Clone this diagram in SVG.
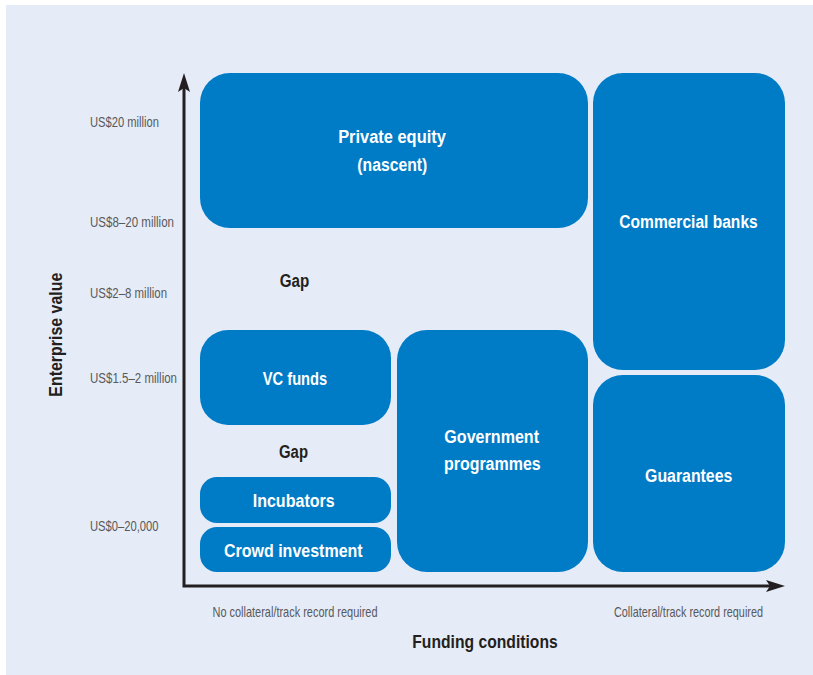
<svg xmlns="http://www.w3.org/2000/svg" width="813" height="675" viewBox="0 0 813 675">
<style>
.box{fill:#007bc6;}
.lbl{font-family:"Liberation Sans Narrow","Liberation Sans",Arial,sans-serif;font-weight:bold;font-size:18px;fill:#ffffff;text-anchor:middle;}
.gap{font-family:"Liberation Sans Narrow","Liberation Sans",Arial,sans-serif;font-weight:bold;font-size:18px;fill:#231f20;text-anchor:middle;}
.tick{font-family:"Liberation Sans Narrow","Liberation Sans",Arial,sans-serif;font-size:14.5px;fill:#58595b;}
.axt{font-family:"Liberation Sans Narrow","Liberation Sans",Arial,sans-serif;font-weight:bold;font-size:18px;fill:#231f20;text-anchor:middle;}
.axis{stroke:#231f20;stroke-width:3;fill:none;}
.head{fill:#231f20;}
</style>
<rect x="0" y="0" width="813" height="675" fill="#ffffff"/>
<rect x="6" y="5" width="807" height="670" fill="#e6ecf7"/>

<g id="axes">
  <path class="axis" d="M184,86 V586 H772"/>
  <path class="head" d="M184,73 L190,92 L184,88 L178,92 Z"/>
  <path class="head" d="M785,586 L766,580 L770,586 L766,592 Z"/>
</g>

<g id="y-labels">
  <text class="tick" x="90" y="127" textLength="69" lengthAdjust="spacingAndGlyphs">US$20 million</text>
  <text class="tick" x="90" y="227" textLength="84" lengthAdjust="spacingAndGlyphs">US$8–20 million</text>
  <text class="tick" x="90" y="298" textLength="77" lengthAdjust="spacingAndGlyphs">US$2–8 million</text>
  <text class="tick" x="90" y="383" textLength="87" lengthAdjust="spacingAndGlyphs">US$1.5–2 million</text>
  <text class="tick" x="90" y="530.5" textLength="68.5" lengthAdjust="spacingAndGlyphs">US$0–20,000</text>
  <text class="axt" transform="translate(62,334.7) rotate(-90)" textLength="124" lengthAdjust="spacingAndGlyphs">Enterprise value</text>
</g>

<g id="x-labels">
  <text class="tick" x="212.5" y="616.5" textLength="165" lengthAdjust="spacingAndGlyphs">No collateral/track record required</text>
  <text class="tick" x="614" y="616.5" textLength="149" lengthAdjust="spacingAndGlyphs">Collateral/track record required</text>
  <text class="axt" x="485" y="648" textLength="145.5" lengthAdjust="spacingAndGlyphs">Funding conditions</text>
</g>

<g id="gaps">
  <text class="gap" x="294.5" y="286.5" textLength="29.5" lengthAdjust="spacingAndGlyphs">Gap</text>
  <text class="gap" x="293.5" y="458" textLength="29" lengthAdjust="spacingAndGlyphs">Gap</text>
</g>

<g id="private-equity">
  <rect class="box" x="200" y="73" width="388" height="155" rx="30" ry="30"/>
  <text class="lbl" x="392" y="143.3" textLength="107.7" lengthAdjust="spacingAndGlyphs">Private equity</text>
  <text class="lbl" x="392.3" y="171" textLength="70" lengthAdjust="spacingAndGlyphs">(nascent)</text>
</g>

<g id="commercial-banks">
  <rect class="box" x="593" y="73" width="192" height="297" rx="30" ry="30"/>
  <text class="lbl" x="688.5" y="228.3" textLength="138.4" lengthAdjust="spacingAndGlyphs">Commercial banks</text>
</g>

<g id="guarantees">
  <rect class="box" x="593" y="375" width="192" height="197" rx="30" ry="30"/>
  <text class="lbl" x="688.7" y="481.7" textLength="87.3" lengthAdjust="spacingAndGlyphs">Guarantees</text>
</g>

<g id="government-programmes">
  <rect class="box" x="397" y="330" width="191" height="242" rx="30" ry="30"/>
  <text class="lbl" x="491.7" y="442.7" textLength="94.7" lengthAdjust="spacingAndGlyphs">Government</text>
  <text class="lbl" x="492.3" y="470" textLength="96.7" lengthAdjust="spacingAndGlyphs">programmes</text>
</g>

<g id="vc-funds">
  <rect class="box" x="200" y="330" width="191" height="95" rx="28" ry="28"/>
  <text class="lbl" x="295" y="385" textLength="64.6" lengthAdjust="spacingAndGlyphs">VC funds</text>
</g>

<g id="incubators">
  <rect class="box" x="200" y="477" width="191" height="46" rx="17" ry="17"/>
  <text class="lbl" x="293.7" y="507.3" textLength="82" lengthAdjust="spacingAndGlyphs">Incubators</text>
</g>

<g id="crowd-investment">
  <rect class="box" x="200" y="527" width="191" height="45" rx="17" ry="17"/>
  <text class="lbl" x="293.3" y="556.7" textLength="138.7" lengthAdjust="spacingAndGlyphs">Crowd investment</text>
</g>
</svg>
